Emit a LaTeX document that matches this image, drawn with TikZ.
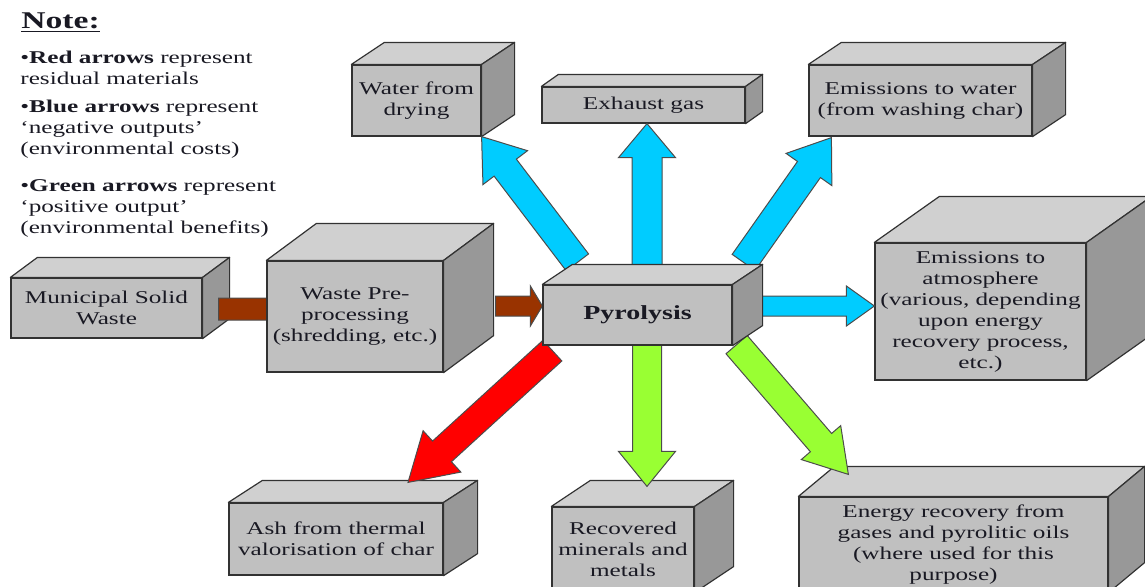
\documentclass[tikz,border=0pt]{standalone}
\usepackage{fontspec}
\setmainfont{Liberation Serif}[FakeStretch=1.4]
\usetikzlibrary{calc}

\definecolor{frontgray}{RGB}{192,192,192}
\definecolor{topgray}{RGB}{208,208,208}
\definecolor{sidegray}{RGB}{152,152,152}
\definecolor{edgegray}{RGB}{50,50,50}
\definecolor{inkgray}{RGB}{25,25,35}
\definecolor{skyblue}{RGB}{0,204,255}
\definecolor{limegreen}{RGB}{153,255,51}
\definecolor{rustbrown}{RGB}{153,51,0}

\pgfdeclarelayer{front}
\pgfsetlayers{main,front}

% top and right faces of a box node
\newcommand{\cubesides}[3]{%
  \draw[topside] (#1.north west) -- ++(#2,#3) -- ($(#1.north east)+(#2,#3)$) -- (#1.north east) -- cycle;
  \draw[rightside] (#1.north east) -- ++(#2,#3) -- ($(#1.south east)+(#2,#3)$) -- (#1.south east) -- cycle;
}
% block arrow: style, tail, tip, half shaft, half head, head length
\newcommand{\blockarrow}[6]{%
  \coordinate (hb) at ($(#3)!#6!(#2)$);
  \filldraw[#1] ($(#2)!#4!90:(#3)$) -- ($(hb)!#4!90:(#3)$) -- ($(hb)!#5!90:(#3)$) -- (#3)
    -- ($(hb)!#5!-90:(#3)$) -- ($(hb)!#4!-90:(#3)$) -- ($(#2)!#4!-90:(#3)$) -- cycle;
}

\begin{document}
\begin{tikzpicture}[x=0.5pt, y=-0.5pt,
  every node/.style={text=inkgray, font=\fontsize{9}{10.5}\selectfont},
  cube/.style={draw=edgegray, line width=0.6pt, fill=frontgray, inner sep=0pt, align=center},
  topside/.style={draw=edgegray, line width=0.6pt, fill=topgray, line join=round},
  rightside/.style={draw=edgegray, line width=0.6pt, fill=sidegray, line join=round},
  notetext/.style={inner sep=0pt, align=left, anchor=north west},
  brownarrow/.style={fill=rustbrown, draw=black!70, line width=0.5pt},
  bluearrow/.style={fill=skyblue, draw=black!70, line width=0.5pt},
  redarrow/.style={fill=red, draw=black!70, line width=0.5pt},
  greenarrow/.style={fill=limegreen, draw=black!70, line width=0.5pt}]
\useasboundingbox (0,0) rectangle (1145,586);

% legend
\node[anchor=base west, inner sep=0pt, font=\fontsize{12}{14}\selectfont\bfseries] (note) at (21,28) {\underline{Note:}};
\node[notetext] (redkey) at (20,51) {•\textbf{Red arrows} represent\\residual materials};
\node[notetext] (bluekey) at (20,100) {•\textbf{Blue arrows} represent\\`negative outputs'\\(environmental costs)};
\node[notetext] (greenkey) at (20,179) {•\textbf{Green arrows} represent\\`positive output'\\(environmental benefits)};

% output boxes
\node[cube, minimum width=64.5pt, minimum height=35.5pt] (water) at (416.5,100.5) {Water from\\drying};
\cubesides{water}{33}{-22}
\node[cube, minimum width=101.5pt, minimum height=18pt] (exhaust) at (643.5,105) {Exhaust gas};
\cubesides{exhaust}{17}{-12}
\node[cube, minimum width=111.5pt, minimum height=35.5pt] (washw) at (920.5,100.5) {Emissions to water\\(from washing char)};
\cubesides{washw}{33}{-22}
\node[cube, minimum width=105.5pt, minimum height=68.5pt] (atmos) at (980.5,311.5) {Emissions to\\atmosphere\\(various, depending\\upon energy\\recovery process,\\etc.)};
\cubesides{atmos}{65}{-46}
\node[cube, minimum width=107pt, minimum height=36pt] (ash) at (336,539) {Ash from thermal\\valorisation of char};
\cubesides{ash}{34}{-22}
\node[cube, minimum width=71pt, minimum height=42.5pt] (recov) at (623,549.5) {Recovered\\minerals and\\metals};
\cubesides{recov}{39}{-26}
\node[cube, minimum width=154.5pt, minimum height=47.5pt] (energy) at (953.5,544.5) {Energy recovery from\\gases and pyrolitic oils\\(where used for this\\purpose)};
\cubesides{energy}{36}{-30}

% input side
\node[cube, minimum width=95.5pt, minimum height=30pt] (msw) at (106.5,308) {Municipal Solid\\Waste};
\cubesides{msw}{27}{-20}

\begin{pgfonlayer}{front}
\node[cube, minimum width=88pt, minimum height=55.5pt] (prep) at (355,316.5) {Waste Pre-\\processing\\(shredding, etc.)};
\cubesides{prep}{50}{-37}
\node[cube, minimum width=94.5pt, minimum height=30pt, font=\fontsize{10}{12}\selectfont\bfseries] (pyro) at (637.5,315) {Pyrolysis};
\cubesides{pyro}{30}{-20}
\end{pgfonlayer}

% arrow ends
\coordinate (b1tail) at ($(msw.east)+(16,1)$);
\coordinate (b1tip) at ($(prep.west)+(18,-7.5)$);
\coordinate (b2tail) at ($(prep.east)+(52,-10.5)$);
\coordinate (b2tip) at ($(pyro.west)+(0,-9)$);
\coordinate (ultail) at ($(pyro.north west)+(35,-22)$);
\coordinate (uptail) at ($(pyro.north)+(9.5,-17)$);
\coordinate (uptip) at ($(exhaust.south)+(3.5,0)$);
\coordinate (urtail) at ($(pyro.north east)+(11,-22)$);
\coordinate (urtip) at ($(washw.south west)+(23,1)$);
\coordinate (rttail) at ($(pyro.east)+(28,-9)$);
\coordinate (rttip) at ($(atmos.west)+(0,-5.5)$);
\coordinate (rdtail) at ($(pyro.south west)+(10,5)$);
\coordinate (rdtip) at ($(ash.north)+(72,-20)$);
\coordinate (dntail) at ($(pyro.south)+(9.5,-2)$);
\coordinate (dntip) at ($(recov.north)+(24,-20)$);
\coordinate (drtail) at ($(pyro.south east)+(4,-1)$);
\coordinate (drtip) at ($(energy.north west)+(50,-22)$);

\blockarrow{brownarrow}{b1tail}{b1tip}{5.5pt}{11pt}{6pt}
\blockarrow{brownarrow}{b2tail}{b2tip}{5pt}{10pt}{6pt}
\blockarrow{bluearrow}{ultail}{water.south east}{7pt}{14pt}{19.5pt}
\blockarrow{bluearrow}{uptail}{uptip}{7.5pt}{14.25pt}{17pt}
\blockarrow{bluearrow}{urtail}{urtip}{7pt}{14pt}{19.5pt}
\blockarrow{bluearrow}{rttail}{rttip}{5pt}{10pt}{14pt}
\blockarrow{redarrow}{rdtail}{rdtip}{7pt}{14pt}{23pt}
\blockarrow{greenarrow}{dntail}{dntip}{7.25pt}{14.25pt}{17.5pt}
\blockarrow{greenarrow}{drtail}{drtip}{7pt}{13pt}{21pt}
\end{tikzpicture}
\end{document}
